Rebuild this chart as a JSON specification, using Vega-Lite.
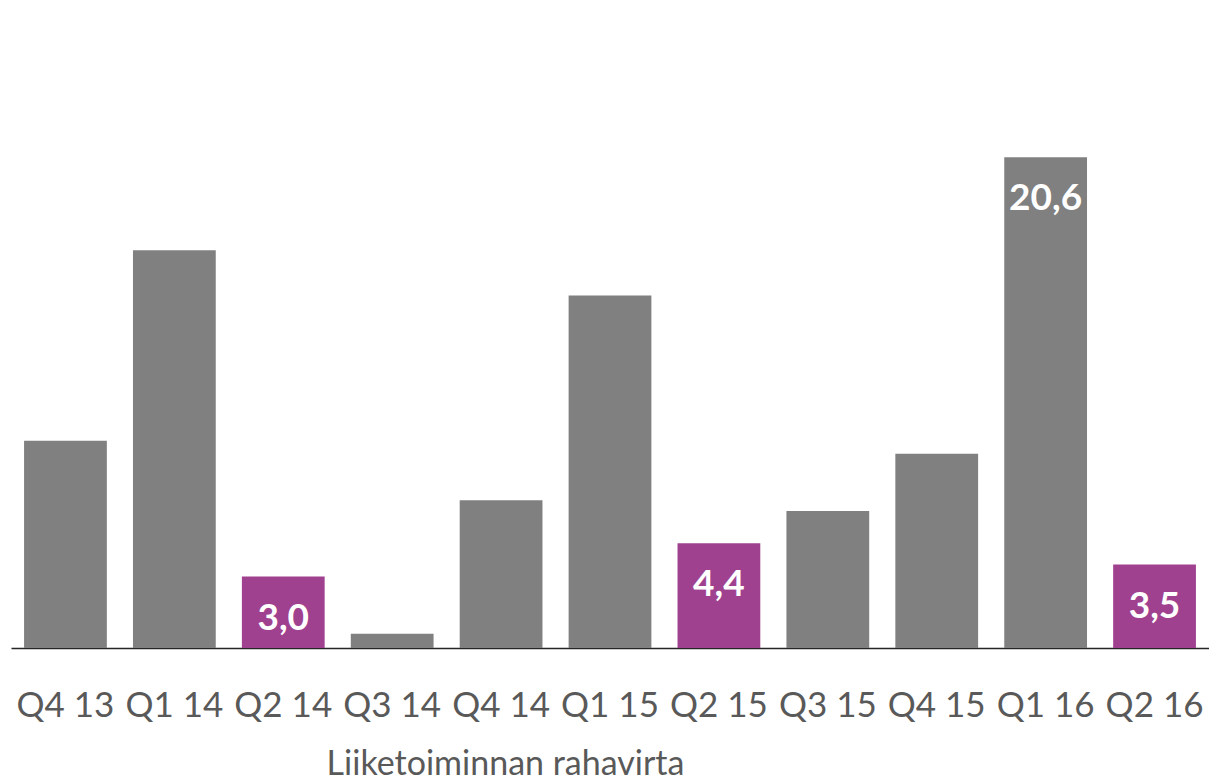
{
  "$schema": "https://vega.github.io/schema/vega-lite/v6.json",
  "autosize": {"type": "none"},
  "padding": {"left": 11, "top": 0, "right": 0, "bottom": 134},
  "width": 1198,
  "height": 648,
  "background": "white",
  "config": {"view": {"stroke": null}, "font": "Lato"},
  "data": {
    "values": [
      {"quarter": "Q4 13", "value": 8.7, "highlight": "no", "label": ""},
      {"quarter": "Q1 14", "value": 16.7, "highlight": "no", "label": ""},
      {"quarter": "Q2 14", "value": 3.0, "highlight": "yes", "label": "3,0"},
      {"quarter": "Q3 14", "value": 0.6, "highlight": "no", "label": ""},
      {"quarter": "Q4 14", "value": 6.2, "highlight": "no", "label": ""},
      {"quarter": "Q1 15", "value": 14.8, "highlight": "no", "label": ""},
      {"quarter": "Q2 15", "value": 4.4, "highlight": "yes", "label": "4,4"},
      {"quarter": "Q3 15", "value": 5.75, "highlight": "no", "label": ""},
      {"quarter": "Q4 15", "value": 8.15, "highlight": "no", "label": ""},
      {"quarter": "Q1 16", "value": 20.6, "highlight": "no", "label": "20,6"},
      {"quarter": "Q2 16", "value": 3.5, "highlight": "yes", "label": "3,5"}
    ]
  },
  "encoding": {
    "x": {
      "field": "quarter",
      "type": "nominal",
      "sort": null,
      "scale": {"paddingInner": 0.24, "paddingOuter": 0.12},
      "axis": {
        "title": "Liiketoiminnan rahavirta",
        "titleFont": "Lato",
        "titleFontSize": 34,
        "titleFontWeight": "normal",
        "titleColor": "#595959",
        "titlePadding": 24,
        "titleX": 494,
        "titleAlign": "center",
        "labelFont": "Lato",
        "labelFontSize": 35,
        "labelColor": "#595959",
        "labelPadding": 57,
        "labelAngle": 0,
        "labelBaseline": "middle",
        "ticks": false,
        "domainColor": "#262626",
        "domainWidth": 1.5
      }
    },
    "y": {
      "field": "value",
      "type": "quantitative",
      "scale": {"domain": [0, 27.2], "nice": false},
      "axis": null
    }
  },
  "layer": [
    {
      "mark": {"type": "bar"},
      "encoding": {
        "color": {
          "field": "highlight",
          "type": "nominal",
          "scale": {"domain": ["no", "yes"], "range": ["#808080", "#A0418F"]},
          "legend": null
        }
      }
    },
    {
      "mark": {
        "type": "text",
        "baseline": "middle",
        "align": "center",
        "dy": 42,
        "fontSize": 37,
        "fontWeight": "bold",
        "color": "white",
        "font": "Lato"
      },
      "encoding": {"text": {"field": "label"}}
    }
  ]
}
